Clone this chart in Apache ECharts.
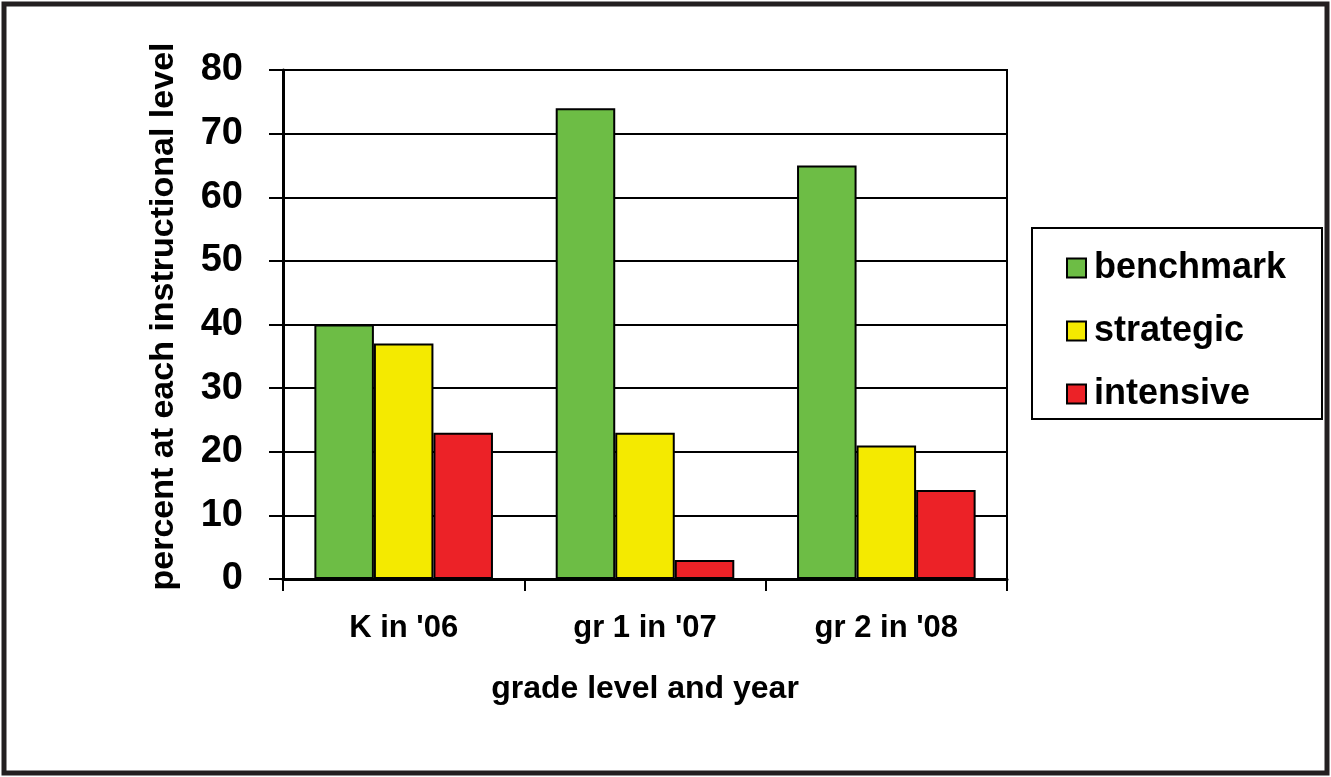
<!DOCTYPE html>
<html>
<head>
<meta charset="utf-8">
<script src="https://cdn.jsdelivr.net/npm/echarts@6/dist/echarts.min.js"></script>
<style>
html,body{margin:0;padding:0;background:#fff;}
#chart{width:1331px;height:777px;}
</style>
</head>
<body>
<div id="chart"></div>
<script>
const categories = ["K in '06", "gr 1 in '07", "gr 2 in '08"];
const seriesNames = ["benchmark", "strategic", "intensive"];
const benchmark = [40, 74, 65];
const strategic = [37, 23, 21];
const intensive = [23, 3, 14];
const yTicks = [0, 10, 20, 30, 40, 50, 60, 70, 80];
const colors = ["#6DBD45", "#F4EA00", "#EC2227"];
const FONT = "'Liberation Sans', Arial, sans-serif";

const chart = echarts.init(document.getElementById('chart'), null, {renderer: 'canvas'});
const values = [benchmark, strategic, intensive];

chart.setOption({
  backgroundColor: '#ffffff',
  animation: false,
  textStyle: {fontFamily: FONT},
  grid: {left: 283, right: 324, top: 70, bottom: 198, show: true, borderColor: '#000', borderWidth: 2, backgroundColor: 'transparent'},
  graphic: [
    {type: 'rect', shape: {x: 4, y: 4, width: 1323, height: 769}, style: {fill: 'none', stroke: '#231f20', lineWidth: 5}, z: 100},
    {type: 'rect', shape: {x: 1032, y: 228, width: 290, height: 191}, style: {fill: '#fff', stroke: '#000', lineWidth: 2}, z: 1}
  ],
  legend: {
    orient: 'vertical',
    left: 1061,
    top: 245,
    itemWidth: 19,
    itemHeight: 19,
    itemGap: 27,
    icon: 'rect',
    z: 10,
    data: seriesNames,
    itemStyle: {borderColor: '#000', borderWidth: 2},
    textStyle: {fontFamily: FONT, fontWeight: 'bold', fontSize: 36, color: '#000', padding: [0, 0, 0, 3]}
  },
  xAxis: {
    type: 'category',
    data: categories,
    boundaryGap: true,
    name: 'grade level and year',
    nameLocation: 'middle',
    nameGap: 94,
    nameTextStyle: {fontFamily: FONT, fontWeight: 'bold', fontSize: 32, color: '#000'},
    axisLine: {show: true, lineStyle: {color: '#000', width: 3}},
    axisTick: {show: true, length: 12, inside: false, lineStyle: {color: '#000', width: 2}},
    axisLabel: {margin: 34, fontFamily: FONT, fontWeight: 'bold', fontSize: 31, color: '#000'},
    splitLine: {show: false}
  },
  yAxis: {
    type: 'value',
    min: 0,
    max: 80,
    interval: 10,
    name: 'percent at each instructional level',
    nameLocation: 'middle',
    nameGap: 102,
    nameRotate: 90,
    nameTextStyle: {fontFamily: FONT, fontWeight: 'bold', fontSize: 34, color: '#000', padding: [0, 0, 0, 16]},
    axisLine: {show: true, lineStyle: {color: '#000', width: 3}},
    axisTick: {show: true, length: 14, inside: false, lineStyle: {color: '#000', width: 2}},
    axisLabel: {
      margin: 40,
      fontFamily: FONT, fontWeight: 'bold', fontSize: 38, color: '#000',
      formatter: function (v) { return yTicks.indexOf(v) >= 0 ? String(v) : ''; }
    },
    splitLine: {show: true, lineStyle: {color: '#000', width: 2}}
  },
  series: seriesNames.map(function (name, i) {
    return {
      name: name,
      type: 'bar',
      data: values[i],
      barGap: '0%',
      barCategoryGap: '26%',
      itemStyle: {color: colors[i], borderColor: '#000', borderWidth: 2},
      z: 3
    };
  })
});
</script>
</body>
</html>
